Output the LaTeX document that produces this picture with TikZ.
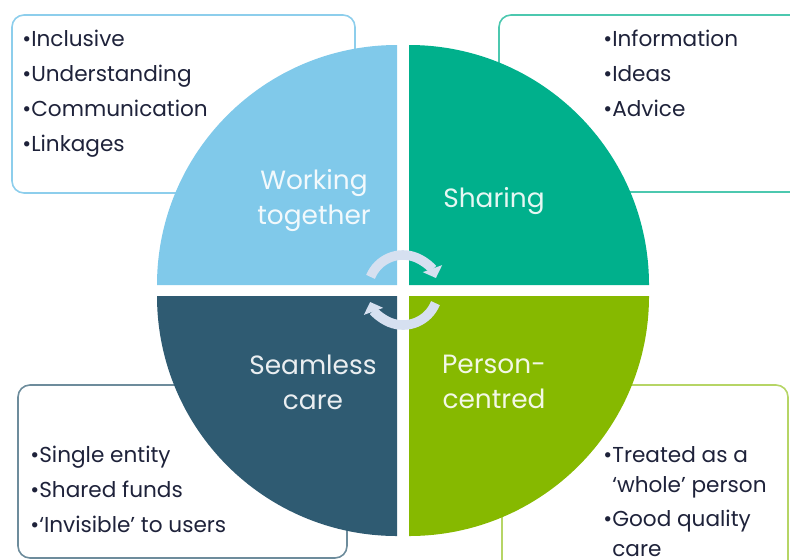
\documentclass[tikz,border=0pt]{standalone}
\usepackage{fontspec}
\setmainfont{Poppins}
\usetikzlibrary{arrows.meta}
\definecolor{wblue}{RGB}{128,201,234}
\definecolor{steal}{RGB}{0,176,140}
\definecolor{sslate}{RGB}{47,91,114}
\definecolor{pgreen}{RGB}{134,185,0}
\definecolor{txtdark}{RGB}{30,34,58}
\definecolor{arcfill}{RGB}{214,224,240}
\tikzset{
  listbox/.style={rounded corners=6pt, line width=0.8pt},
  listtext/.style={anchor=north west, inner sep=0pt, align=left,
    text=txtdark, font=\fontsize{10.8}{17.5}\selectfont},
  quadlabel/.style={align=center, text=white, text opacity=0.9,
    font=\fontsize{13.2}{17.5}\selectfont},
  turn/.style={-{Triangle[length=5pt, width=10pt]}, line width=4.8pt, color=arcfill}
}

\begin{document}
\begin{tikzpicture}[x=0.5pt, y=0.5pt]
  \useasboundingbox (0,0) rectangle (790,559);
  \clip (0,0) rectangle (790,559);
  % boxes behind the circle
  \draw[listbox, draw=wblue!90] (12,544) rectangle (355,366);
  \draw[listbox, draw=steal!70] (499,544) rectangle (820,367);
  \draw[listbox, draw=sslate!70] (18,174) rectangle (347,1);
  \draw[listbox, draw=pgreen!60] (502,174) rectangle (788,-30);
  % four quarters
  \fill[wblue] (397,274) -- ++(180:240) arc (180:90:240) -- cycle;
  \fill[steal] (409,274) -- ++(90:240) arc (90:0:240) -- cycle;
  \fill[sslate] (397,263) -- ++(270:240) arc (270:180:240) -- cycle;
  \fill[pgreen] (409,263) -- ++(0:240) arc (0:-90:240) -- cycle;
  \node[quadlabel] (work) at (314,358) {Working\\together};
  \node[quadlabel] (share) at (494,358) {Sharing};
  \node[quadlabel] (seam) at (313,177) {Seamless\\care};
  \node[quadlabel] (person) at (494,177) {Person-\\centred};
  % turning arrows in the middle
  \draw[turn] (403,269) ++(158:35) arc (158:20:35);
  \draw[turn] (403,269) ++(-22:35) arc (-22:-160:35);
  % lists
  \node[listtext] (worklist) at (22,529)
    {•Inclusive\\•Understanding\\•Communication\\•Linkages};
  \node[listtext] (sharelist) at (603,529)
    {•Information\\•Ideas\\•Advice};
  \node[listtext] (seamlist) at (30,113)
    {•Single entity\\•Shared funds\\•‘Invisible’ to users};
  \node[listtext, font=\fontsize{10.8}{15}\selectfont] (personlist) at (603,113)
    {•Treated as a\\\phantom{•}‘whole’ person\\[2pt]•Good quality\\\phantom{•}care};
\end{tikzpicture}
\end{document}
